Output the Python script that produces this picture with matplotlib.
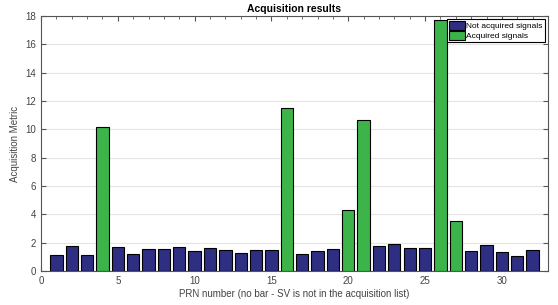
import matplotlib
matplotlib.use("Agg")
import matplotlib.pyplot as plt
import numpy as np
from matplotlib.ticker import MultipleLocator

plt.rcParams['font.family'] = ['Liberation Sans', 'DejaVu Sans']

prn = np.arange(1, 33)
metric = [1.13, 1.74, 1.13, 10.15, 1.69, 1.22, 1.57, 1.57, 1.71, 1.43,
          1.60, 1.48, 1.27, 1.48, 1.48, 11.52, 1.22, 1.41, 1.55, 4.32,
          10.63, 1.74, 1.93, 1.60, 1.60, 17.68, 3.57, 1.41, 1.81, 1.32,
          1.04, 1.46]
acquired = [4, 16, 20, 21, 26, 27]

metric = np.array(metric)
is_acq = np.isin(prn, acquired)
not_acq_vals = np.where(is_acq, 0, metric)
acq_vals = np.where(is_acq, metric, 0)

fig = plt.figure(figsize=(5.58, 3.05), dpi=100)
ax = fig.add_axes([0.0735, 0.111, 0.9085, 0.837])

ax.bar(prn, not_acq_vals, width=0.8, color='#2e2e82', edgecolor='black',
       linewidth=0.8, label='Not acquired signals', zorder=3)
ax.bar(prn, acq_vals, width=0.8, color='#3cb44a', edgecolor='black',
       linewidth=0.8, label='Acquired signals', zorder=3)

ax.set_xlim(0, 33)
ax.set_ylim(0, 18)
ax.xaxis.set_major_locator(MultipleLocator(5))
ax.xaxis.set_minor_locator(MultipleLocator(1))
ax.yaxis.set_major_locator(MultipleLocator(2))
ax.grid(axis='y', color='#e4e4e4', linewidth=0.8, zorder=0)
ax.tick_params(which='both', direction='in', top=True, right=True,
               labelsize=7, colors='#555555', labelcolor='#444444')
ax.tick_params(which='major', length=3.5)
ax.tick_params(which='minor', length=2)
for s in ax.spines.values():
    s.set_color('#555555')
    s.set_linewidth(0.8)

ax.set_title('Acquisition results', fontsize=7.5, fontweight='bold', pad=3)
ax.set_xlabel('PRN number (no bar - SV is not in the acquisition list)',
              fontsize=7, color='#444444', labelpad=2)
ax.set_ylabel('Acquisition Metric', fontsize=7, color='#444444', labelpad=4)

leg = ax.legend(loc='upper right', fontsize=6, fancybox=False, framealpha=1,
                edgecolor='black', borderpad=0.25, handlelength=2.0,
                handleheight=1.2, handletextpad=0.1, labelspacing=0.1,
                borderaxespad=0.4)
leg.get_frame().set_linewidth(0.8)
leg.set_zorder(5)

fig.savefig('out.png', dpi=100)
